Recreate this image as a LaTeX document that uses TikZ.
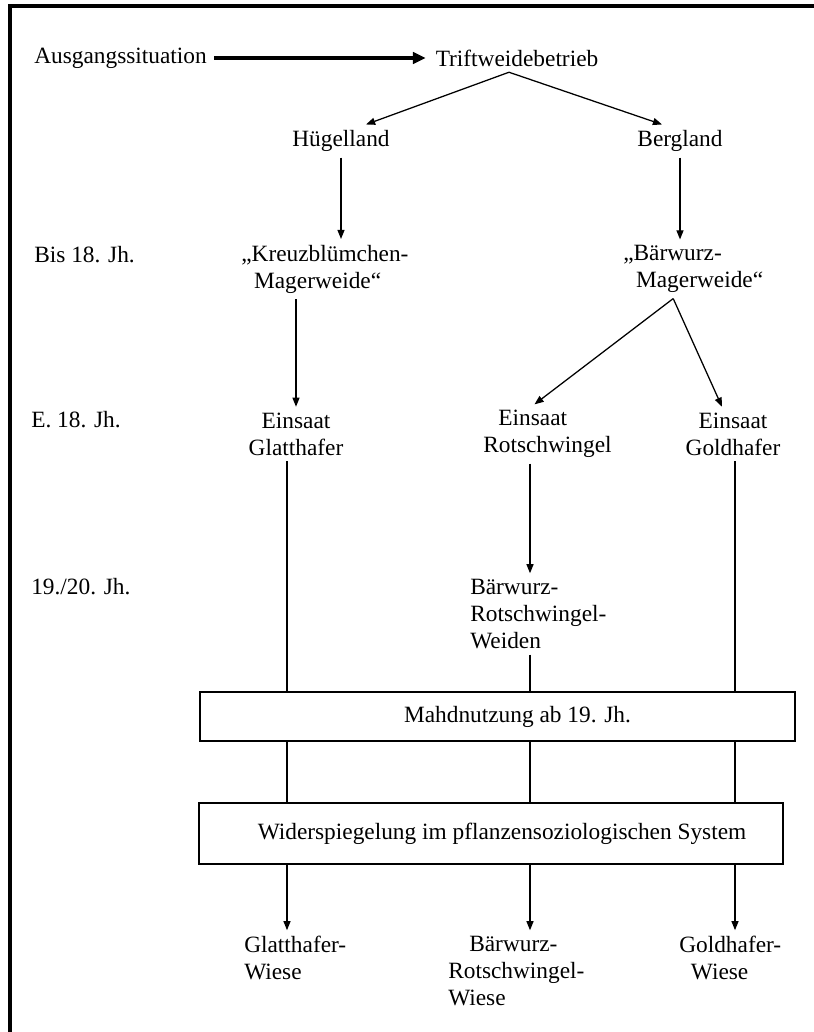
\documentclass[tikz,border=0pt]{standalone}
\usepackage{fontspec}
\setmainfont{Liberation Serif}
\usepackage{tikz}
\usetikzlibrary{arrows.meta, positioning, calc}
\newcommand{\diafont}{\fontsize{16.6pt}{19.2pt}\selectfont}
\tikzset{
  lbl/.style={inner xsep=0pt, inner ysep=4pt, font=\diafont, align=center},
  lbll/.style={lbl, align=left, anchor=west},
  era/.style={lbl, anchor=west},
  band/.style={draw, line width=1.1pt, inner sep=0pt, font=\diafont},
  link/.style={line width=0.9pt},
  flow/.style={link, -{Triangle[length=6.5pt, width=5pt]}},
  bigflow/.style={-{Triangle[length=9pt, width=8pt]}, line width=2.6pt,
                  shorten <=5pt, shorten >=7pt},
  frame/.style={line width=2.2pt},
}

\begin{document}
\begin{tikzpicture}[x=0.025cm, y=-0.025cm]
  \useasboundingbox (0,0) rectangle (814,1032);
  \draw[frame] (814,6) -- (10,6) -- (10,1032);
  % time axis
  \node[era] (ausg) at (34,58) {Ausgangssituation};
  \node[era] (t18) at (34,255) {Bis 18. Jh.};
  \node[era] (e18) at (31,420) {E. 18. Jh.};
  \node[era] (t19) at (31,587) {19./20. Jh.};
  % upper tree
  \node[lbl] (trift) at (517,58) {Triftweidebetrieb};
  \node[lbl] (huegel) at (341,141) {Hügelland};
  \node[lbl] (berg) at (680,141) {Bergland};
  \node[lbll] (kreuz) at (241,269)
    {„Kreuzblümchen-\\\hspace*{0.55em}Magerweide“};
  \node[lbll] (bmw) at (623,269)
    {„Bärwurz-\\\hspace*{0.55em}Magerweide“};
  \node[lbl] (einG) at (296,434) {Einsaat\\Glatthafer};
  \node[lbll] (einR) at (483,434) {\hspace*{0.65em}Einsaat\\Rotschwingel};
  \node[lbl] (einGold) at (733,434) {Einsaat\\Goldhafer};
  \node[lbll] (weiden) at (470,614) {Bärwurz-\\Rotschwingel-\\Weiden};
  % bands
  \node[band, minimum width=14.875cm, minimum height=1.225cm] (mahd)
    at (497.5,716.5) {\hspace*{1cm}Mahdnutzung ab 19. Jh.};
  \node[band, minimum width=14.6cm, minimum height=1.525cm] (wider)
    at (491,833.5) {\hspace*{0.55cm}Widerspiegelung im pflanzensoziologischen System};
  % results
  \node[lbll] (wG) at (244,958) {Glatthafer-\\Wiese};
  \node[lbll] (wB) at (448,971) {\hspace*{0.9em}Bärwurz-\\Rotschwingel-\\Wiese};
  \node[lbll] (wGold) at (679,958) {Goldhafer-\\\hspace*{0.5em}Wiese};
  \coordinate (colA) at (287,0);
  \coordinate (colB) at (530,0);
  \coordinate (colC) at (735,0);
  % arrows
  \draw[bigflow] (ausg) -- (trift);
  \coordinate (tapex) at ($(trift.south)+(-8,0)$);
  \draw[flow] (tapex) -- ($(huegel.north)+(25,0)$);
  \draw[flow] (tapex) -- ($(berg.north)+(-18,0)$);
  \draw[flow] (huegel.south) -- (huegel.south |- kreuz.north);
  \draw[flow] (berg.south) -- (berg.south |- bmw.north);
  \draw[flow] (kreuz.south -| einG) -- (einG.north);
  \coordinate (bapex) at ($(bmw.south)+(-20,0)$);
  \draw[flow] (bapex) -- ($(einR.north)+(-13,0)$);
  \draw[flow] (bapex) -- ($(einGold.north)+(-11,0)$);
  \draw[flow] (einR.south -| colB) -- (weiden.north -| colB);
  \draw[link] (einG.south -| colA) -- (mahd.north -| colA);
  \draw[link] (weiden.south -| colB) -- (mahd.north -| colB);
  \draw[link] (einGold.south -| colC) -- (mahd.north -| colC);
  \foreach \c in {colA,colB,colC}
    \draw[link] (mahd.south -| \c) -- (wider.north -| \c);
  \draw[flow] (wider.south -| colA) -- (wG.north -| colA);
  \draw[flow] (wider.south -| colB) -- (wB.north -| colB);
  \draw[flow] (wider.south -| colC) -- (wGold.north -| colC);
\end{tikzpicture}
\end{document}
